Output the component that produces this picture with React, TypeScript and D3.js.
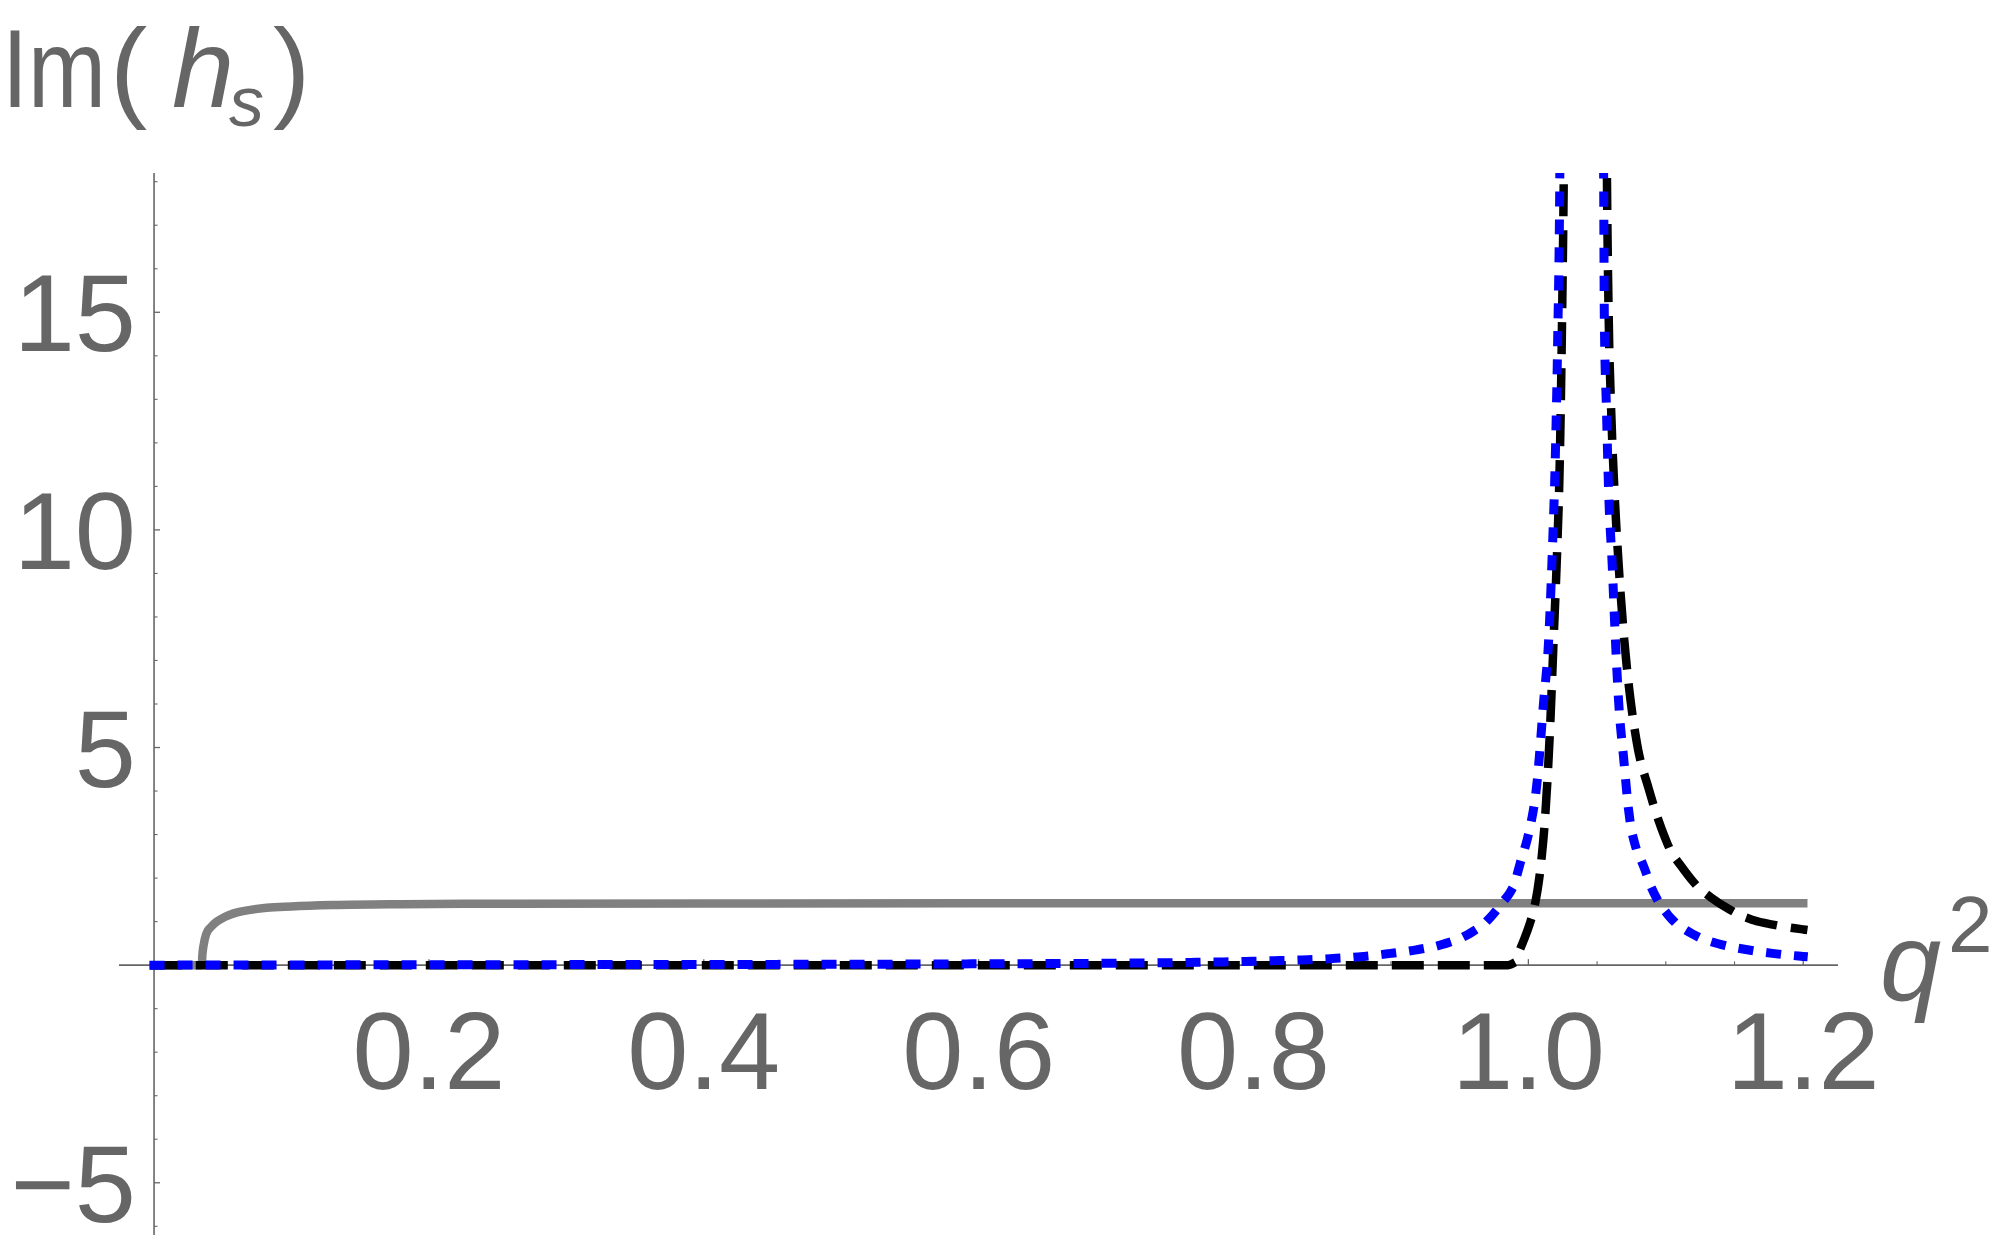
import React from "react";
import * as d3 from "d3";

// ---- data ----
const grayX = [0, 0.02, 0.0347, 0.0352, 0.036, 0.038, 0.0415, 0.0456, 0.051, 0.058, 0.07, 0.082, 0.1, 0.13, 0.18, 0.253, 0.4, 0.6, 0.8, 1.0, 1.2];
const grayY = [0, 0, 0, 0.25, 0.45, 0.72, 0.88, 1.0, 1.1, 1.19, 1.27, 1.32, 1.35, 1.38, 1.4, 1.41, 1.415, 1.42, 1.42, 1.42, 1.42];

const blackX = [0, 0.2, 0.4, 0.6, 0.8, 0.9, 0.95, 0.985, 0.989, 0.993, 0.997, 1.001, 1.0045, 1.0087, 1.0124, 1.016, 1.0184, 1.0209, 1.0228, 1.0245, 1.0257, 1.0265, 1.0415, 1.0565, 1.0572, 1.0585, 1.0602, 1.0628, 1.0657, 1.0689, 1.073, 1.079, 1.0876, 1.0985, 1.104, 1.1106, 1.121, 1.133, 1.148, 1.164, 1.178, 1.2];
const blackY = [0, 0, 0, 0, 0, 0, 0, 0, 0.05, 0.3, 0.6, 0.95, 1.35, 2.2, 3.5, 5.6, 7.5, 9.5, 11.5, 14.8, 17.95, 21, 80, 21, 18, 14.8, 12.8, 10.8, 9.2, 7.8, 6.45, 5.1, 4.05, 3.0, 2.6, 2.3, 1.88, 1.55, 1.25, 1.03, 0.93, 0.82];

const blueX = [0, 0.1, 0.2, 0.3, 0.4, 0.5, 0.6, 0.7, 0.75, 0.8, 0.85, 0.88, 0.9, 0.92, 0.94, 0.96, 0.97, 0.98, 0.99, 0.995, 1.0, 1.0063, 1.0111, 1.0148, 1.0172, 1.0197, 1.0213, 1.0228, 1.0235, 1.039, 1.0543, 1.0548, 1.0553, 1.0568, 1.0585, 1.061, 1.0633, 1.0657, 1.0694, 1.073, 1.079, 1.0835, 1.09, 1.1015, 1.117, 1.135, 1.1547, 1.1753, 1.2];
const blueY = [0, 0.005, 0.008, 0.012, 0.016, 0.02, 0.03, 0.045, 0.06, 0.09, 0.14, 0.2, 0.27, 0.36, 0.5, 0.78, 1.02, 1.4, 1.9, 2.45, 3.0, 4.2, 6.05, 7.5, 9.3, 11.8, 14.3, 17.8, 21, 80, 21, 17.95, 14.8, 12.8, 10.8, 9.2, 7.5, 6.05, 4.73, 3.55, 2.62, 2.3, 1.75, 1.16, 0.76, 0.52, 0.38, 0.28, 0.2];

const xTickLabels = ["0.2", "0.4", "0.6", "0.8", "1.0", "1.2"];
const xMajor = [0.2, 0.4, 0.6, 0.8, 1.0, 1.2];
const yMajor = [-5, 5, 10, 15];
const yTickLabels = ["\u22125", "5", "10", "15"];

const xDomain = [-0.0255, 1.2253];
const yDomain = [-6.2, 18.2];

const W = 2000;
const H = 1254;
const FONT = "'Liberation Sans', Arial, Helvetica, sans-serif";
const LABEL = "#666666";
const AXIS = "#666666";

export default function App() {
  const x = d3.scaleLinear().domain(xDomain).range([119, 1838]);
  const y = d3.scaleLinear().domain(yDomain).range([1235, 173]);

  const line = d3
    .line<[number, number]>()
    .x((d) => x(d[0]))
    .y((d) => y(d[1]))
    .curve(d3.curveMonotoneX);

  const zip = (a: number[], b: number[]) => a.map((v, i) => [v, b[i]] as [number, number]);

  const xMinor = d3.range(1, 25).map((i) => i * 0.05).filter((v) => !xMajor.some((m) => Math.abs(m - v) < 1e-6));
  const yMinor = d3.range(-6, 19).filter((v) => v % 5 !== 0);

  const x0 = x(0);
  const y0 = y(0);

  return (
    <svg width={W} height={H} style={{ position: "absolute", left: 0, top: 0, background: "#fff" }}>
      <defs>
        <clipPath id="plotclip">
          <rect x={100} y={173} width={1760} height={1062} />
        </clipPath>
      </defs>

      {/* axes */}
      <line x1={x(xDomain[0])} x2={x(xDomain[1])} y1={y0} y2={y0} stroke={AXIS} strokeWidth={1.6} />
      <line x1={x0} x2={x0} y1={y(yDomain[0])} y2={y(yDomain[1])} stroke={AXIS} strokeWidth={1.6} />

      {/* x ticks */}
      {xMajor.map((v) => (
        <line key={"xM" + v} x1={x(v)} x2={x(v)} y1={y0} y2={y0 - 6} stroke={AXIS} strokeWidth={1.3} />
      ))}
      {xMinor.map((v) => (
        <line key={"xm" + v} x1={x(v)} x2={x(v)} y1={y0} y2={y0 - 3.8} stroke={AXIS} strokeWidth={1.1} />
      ))}
      {/* y ticks */}
      {yMajor.map((v) => (
        <line key={"yM" + v} x1={x0} x2={x0 + 6} y1={y(v)} y2={y(v)} stroke={AXIS} strokeWidth={1.3} />
      ))}
      {yMinor.map((v) => (
        <line key={"ym" + v} x1={x0} x2={x0 + 3.5} y1={y(v)} y2={y(v)} stroke={AXIS} strokeWidth={1.1} />
      ))}

      {/* tick labels */}
      {xMajor.map((v, i) => (
        <text key={"xl" + v} x={x(v)} y={1089} textAnchor="middle" fontFamily={FONT} fontSize={110} fill={LABEL}>
          {xTickLabels[i]}
        </text>
      ))}
      {yMajor.map((v, i) => (
        <text key={"yl" + v} x={136} y={y(v) + 39} textAnchor="end" fontFamily={FONT} fontSize={110} fill={LABEL}>
          {yTickLabels[i]}
        </text>
      ))}

      {/* curves */}
      <g clipPath="url(#plotclip)" fill="none">
        <path d={line(zip(grayX, grayY)) || ""} stroke="#808080" strokeWidth={8.5} strokeLinecap="square" />
        <path d={line(zip(blackX, blackY)) || ""} stroke="#000000" strokeWidth={8.5} strokeLinecap="square" strokeDasharray="23.5 22.5" />
        <path d={line(zip(blueX, blueY)) || ""} stroke="#0000ff" strokeWidth={9} strokeLinecap="square" strokeDasharray="6 22" />
      </g>

      {/* axis labels */}
      <g fontFamily={FONT} fill={LABEL}>
        <text x={2} y={107} fontSize={112} textLength={104} lengthAdjust="spacingAndGlyphs">Im</text>
        <text y={107} fontSize={112}>
          <tspan x={110}>(</tspan>
          <tspan x={172} fontStyle="italic">h</tspan>
          <tspan x={229} y={126} fontSize={70} fontStyle="italic">s</tspan>
          <tspan x={273} y={107}>)</tspan>
        </text>
        <text x={1880} y={1000} fontSize={110} fontStyle="italic">
          q<tspan x={1948} y={952} fontSize={80} fontStyle="normal">2</tspan>
        </text>
      </g>
    </svg>
  );
}
